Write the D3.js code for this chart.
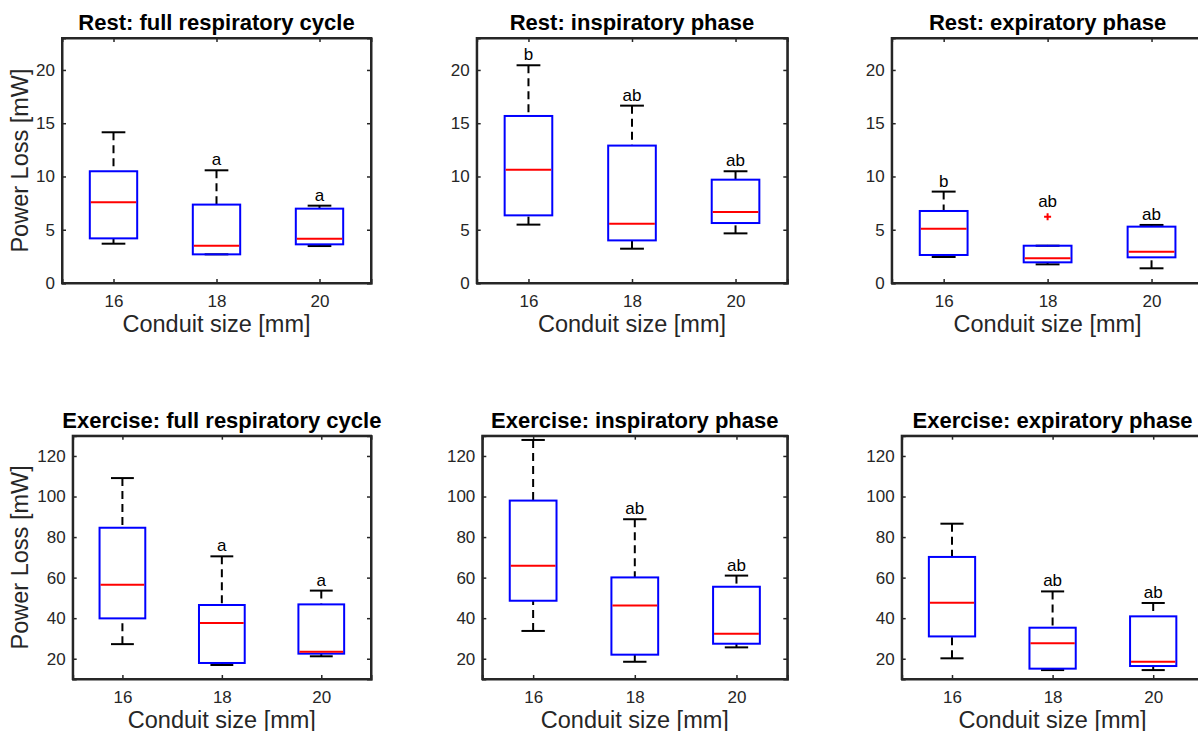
<!DOCTYPE html>
<html>
<head>
<meta charset="utf-8">
<script src="https://cdn.jsdelivr.net/npm/d3@7"></script>
<style>
  html, body { margin: 0; padding: 0; background: #ffffff; }
  svg { display: block; font-family: "Liberation Sans", Arial, Helvetica, sans-serif; }
</style>
</head>
<body>
<svg id="chart" width="1198" height="731"></svg>
<script>
// ---------------- DATA ----------------
const conduitSizes = [16, 18, 20];

const panelTitles = [
  "Rest: full respiratory cycle",
  "Rest: inspiratory phase",
  "Rest: expiratory phase",
  "Exercise: full respiratory cycle",
  "Exercise: inspiratory phase",
  "Exercise: expiratory phase"
];

// each row: [lower whisker, Q1, median, Q3, upper whisker] for 16, 18, 20 mm
const restFull = [
  [3.69, 4.19, 7.57, 10.49, 14.15],
  [2.69, 2.69, 3.50, 7.36, 10.58],
  [3.47, 3.63, 4.16, 6.98, 7.26]
];
const restInsp = [
  [5.48, 6.35, 10.64, 15.68, 20.44],
  [3.22, 4.00, 5.57, 12.90, 16.65],
  [4.66, 5.63, 6.67, 9.70, 10.49]
];
const restExp = [
  [2.44, 2.63, 5.10, 6.76, 8.58],
  [1.75, 1.94, 2.32, 3.50, 3.50],
  [1.38, 2.41, 2.94, 5.29, 5.45]
];
const exFull = [
  [27.2, 39.9, 56.5, 84.6, 109.1],
  [16.9, 17.9, 37.6, 46.5, 70.5],
  [21.2, 22.5, 23.5, 46.8, 53.6]
];
const exInsp = [
  [33.7, 48.6, 65.9, 98.0, 127.9],
  [18.5, 22.0, 46.3, 60.1, 88.8],
  [25.6, 27.4, 32.3, 55.5, 61.0]
];
const exExp = [
  [20.2, 31.0, 47.6, 70.2, 86.6],
  [14.4, 15.1, 27.6, 35.3, 53.2],
  [14.4, 16.4, 18.5, 40.9, 47.5]
];

// outliers per group
const restFullOutliers = [[], [], []];
const restInspOutliers = [[], [], []];
const restExpOutliers  = [[], [6.23], []];
const exFullOutliers   = [[], [], []];
const exInspOutliers   = [[], [], []];
const exExpOutliers    = [[], [], []];

// significance letters
const restFullLetters = ["", "a", "a"];
const restInspLetters = ["b", "ab", "ab"];
const restExpLetters  = ["b", "ab", "ab"];
const exFullLetters   = ["", "a", "a"];
const exInspLetters   = ["", "ab", "ab"];
const exExpLetters    = ["", "ab", "ab"];

const restYTicks = [0, 5, 10, 15, 20];
const exYTicks = [20, 40, 60, 80, 100, 120];
const restYDomain = [0, 23];
const exYDomain = [10, 130];
const xDomain = [15, 21];

const yLabel = "Power Loss [mW]";
const xLabel = "Conduit size [mm]";

// ---------------- LAYOUT ----------------
const panels = [
  { stats: restFull, out: restFullOutliers, letters: restFullLetters, yd: restYDomain, yt: restYTicks, x0: 62,    x1: 371,    y0: 38,    y1: 283, ylab: true },
  { stats: restInsp, out: restInspOutliers, letters: restInspLetters, yd: restYDomain, yt: restYTicks, x0: 476.7, x1: 787.3,  y0: 38,    y1: 283, ylab: false },
  { stats: restExp,  out: restExpOutliers,  letters: restExpLetters,  yd: restYDomain, yt: restYTicks, x0: 891.7, x1: 1203.5, y0: 38,    y1: 283, ylab: false },
  { stats: exFull,   out: exFullOutliers,   letters: exFullLetters,   yd: exYDomain,   yt: exYTicks,   x0: 72.7,  x1: 371,    y0: 435.7, y1: 679, ylab: true },
  { stats: exInsp,   out: exInspOutliers,   letters: exInspLetters,   yd: exYDomain,   yt: exYTicks,   x0: 482.3, x1: 787.3,  y0: 435.7, y1: 679, ylab: false },
  { stats: exExp,    out: exExpOutliers,    letters: exExpLetters,    yd: exYDomain,   yt: exYTicks,   x0: 901.7, x1: 1203.5, y0: 435.7, y1: 679, ylab: false }
];

const svg = d3.select("#chart");
const axisColor = "#262626";
const boxWidthUnits = 0.92;
const capWidthUnits = 0.46;

panels.forEach((p, i) => {
  const x = d3.scaleLinear().domain(xDomain).range([p.x0, p.x1]);
  const y = d3.scaleLinear().domain(p.yd).range([p.y1, p.y0]);
  const g = svg.append("g");
  const tickLen = 4;

  // axes (inward ticks on all four sides)
  const axL = d3.axisLeft(y).tickValues(p.yt).tickSize(-tickLen).tickPadding(7).tickFormat(d3.format("d"));
  const axR = d3.axisRight(y).tickValues(p.yt).tickSize(-tickLen).tickFormat("");
  const axB = d3.axisBottom(x).tickValues(conduitSizes).tickSize(-tickLen).tickPadding(12).tickFormat(d3.format("d"));
  const axT = d3.axisTop(x).tickValues(conduitSizes).tickSize(-tickLen).tickFormat("");

  const gl = g.append("g").attr("transform", `translate(${p.x0},0)`).call(axL);
  const gr = g.append("g").attr("transform", `translate(${p.x1},0)`).call(axR);
  const gb = g.append("g").attr("transform", `translate(0,${p.y1})`).call(axB);
  const gt = g.append("g").attr("transform", `translate(0,${p.y0})`).call(axT);
  [gl, gr, gb, gt].forEach(a => {
    a.select(".domain").attr("stroke", axisColor).attr("stroke-width", 2);
    a.selectAll(".tick line").attr("stroke", axisColor).attr("stroke-width", 1.5);
    a.selectAll(".tick text").attr("fill", axisColor).attr("font-size", 17)
      .attr("font-family", "'Liberation Sans', Arial, Helvetica, sans-serif");
  });
  g.append("rect").attr("x", p.x0).attr("y", p.y0).attr("width", p.x1 - p.x0).attr("height", p.y1 - p.y0)
    .attr("fill", "none").attr("stroke", axisColor).attr("stroke-width", 2);

  const plot = g.append("g");
  const bw = x(xDomain[0] + boxWidthUnits) - x(xDomain[0]);
  const cw = x(xDomain[0] + capWidthUnits) - x(xDomain[0]);

  conduitSizes.forEach((s, j) => {
    const [lo, q1, med, q3, hi] = p.stats[j];
    const cx = x(s);
    // whiskers (dashed)
    plot.append("line").attr("x1", cx).attr("x2", cx).attr("y1", y(hi)).attr("y2", y(q3))
      .attr("stroke", "#000").attr("stroke-width", 2).attr("stroke-dasharray", "8,5");
    plot.append("line").attr("x1", cx).attr("x2", cx).attr("y1", y(lo)).attr("y2", y(q1))
      .attr("stroke", "#000").attr("stroke-width", 2).attr("stroke-dasharray", "8,5");
    // caps
    [lo, hi].forEach(v => {
      plot.append("line").attr("x1", cx - cw / 2).attr("x2", cx + cw / 2).attr("y1", y(v)).attr("y2", y(v))
        .attr("stroke", "#000").attr("stroke-width", 2);
    });
    // box
    plot.append("rect").attr("x", cx - bw / 2).attr("y", y(q3)).attr("width", bw).attr("height", y(q1) - y(q3))
      .attr("fill", "none").attr("stroke", "#0000ff").attr("stroke-width", 2);
    // median
    plot.append("line").attr("x1", cx - bw / 2 + 1).attr("x2", cx + bw / 2 - 1).attr("y1", y(med)).attr("y2", y(med))
      .attr("stroke", "#ff0000").attr("stroke-width", 2);
    // outliers
    p.out[j].forEach(v => {
      plot.append("path").attr("d", `M${cx - 3.5},${y(v)}H${cx + 3.5}M${cx},${y(v) - 3.5}V${y(v) + 3.5}`)
        .attr("stroke", "#ff0000").attr("stroke-width", 2);
    });
    // letters
    if (p.letters[j]) {
      const top = d3.max([hi, ...p.out[j]]);
      const off = p.out[j].length ? 10 : 5;
      plot.append("text").attr("x", cx).attr("y", y(top) - off).attr("text-anchor", "middle")
        .attr("font-size", 17).attr("fill", "#000").text(p.letters[j]);
    }
  });

  // title
  g.append("text").attr("x", (p.x0 + p.x1) / 2).attr("y", p.y0 - 8).attr("text-anchor", "middle")
    .attr("font-size", 22).attr("font-weight", "bold").attr("fill", "#000").text(panelTitles[i]);
  // x label
  g.append("text").attr("x", (p.x0 + p.x1) / 2).attr("y", p.y1 + 49).attr("text-anchor", "middle")
    .attr("font-size", 23.5).attr("fill", axisColor).text(xLabel);
  // y label
  if (p.ylab) {
    g.append("text").attr("transform", `translate(28,${(p.y0 + p.y1) / 2}) rotate(-90)`)
      .attr("text-anchor", "middle").attr("font-size", 23.5).attr("fill", axisColor).text(yLabel);
  }
});
</script>
</body>
</html>
